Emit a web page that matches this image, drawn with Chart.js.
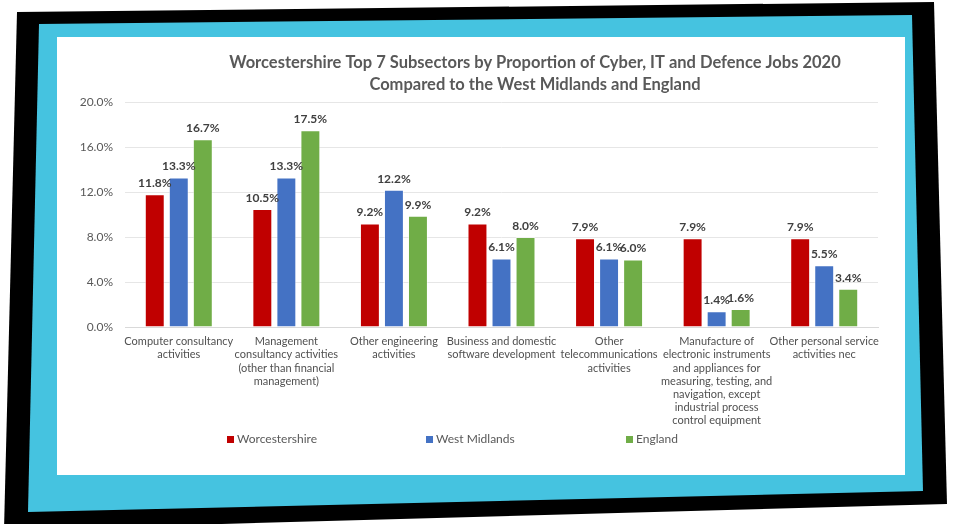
<!DOCTYPE html>
<html>
<head>
    <meta charset="utf-8">
    <title>Worcestershire Top 7 Subsectors</title>
    <script src="https://cdn.jsdelivr.net/npm/chart.js@4.4.0/dist/chart.umd.min.js"></script>
    <style>
        body { margin: 0; width: 954px; height: 524px; background: #fff; position: relative; overflow: hidden; font-family: Lato, sans-serif; }
        #frame { position: absolute; left: 0; top: 0; }
        #white { position: absolute; left: 57px; top: 37px; width: 848px; height: 438px; background: #fff; }
        #wrap { position: absolute; left: 57px; top: 37px; width: 848px; height: 438px; }
        .leg { position: absolute; top: 432px; font-size: 12px; color: #595959; line-height: 14px; white-space: nowrap; }
        .leg span { display: inline-block; width: 7px; height: 7px; margin-right: 3px; vertical-align: 0px; }
    </style>
</head>
<body>
    <svg id="frame" width="954" height="524">
        <polygon points="17,12 934,2 947,504 4,530" fill="#000"/>
        <polygon points="39,24 912,15 923,491 28,512" fill="#45C3E0"/>
    </svg>
    <div id="white"></div>
    <div id="wrap"><canvas id="myChart"></canvas></div>
    <div class="leg" style="left:227px"><span style="background:#C00000"></span>Worcestershire</div>
    <div class="leg" style="left:426px"><span style="background:#4472C4"></span>West Midlands</div>
    <div class="leg" style="left:626px"><span style="background:#70AD47"></span>England</div>
    <script>
        // data
        const categories = [
            ['Computer consultancy', 'activities'],
            ['Management', 'consultancy activities', '(other than financial', 'management)'],
            ['Other engineering', 'activities'],
            ['Business and domestic', 'software development'],
            ['Other', 'telecommunications', 'activities'],
            ['Manufacture of', 'electronic instruments', 'and appliances for', 'measuring, testing, and', 'navigation, except', 'industrial process', 'control equipment'],
            ['Other personal service', 'activities nec']
        ];
        const worcestershire = [11.8, 10.5, 9.2, 9.2, 7.9, 7.9, 7.9];
        const westMidlands = [13.3, 13.3, 12.2, 6.1, 6.1, 1.4, 5.5];
        const england = [16.7, 17.5, 9.9, 8.0, 6.0, 1.6, 3.4];
        const titleLines = [
            'Worcestershire Top 7 Subsectors by Proportion of Cyber, IT and Defence Jobs 2020',
            'Compared to the West Midlands and England'
        ];

        const FONT = 'Lato, sans-serif';
        const GREY = '#595959';

        // title drawn at the same spot as the original
        const titlePlugin = {
            id: 'titleText',
            afterDraw(chart) {
                const ctx = chart.ctx;
                ctx.save();
                ctx.font = 'bold 16.5px ' + FONT;
                ctx.fillStyle = GREY;
                ctx.textAlign = 'center';
                ctx.textBaseline = 'middle';
                ctx.fillText(titleLines[0], 478, 26);
                ctx.fillText(titleLines[1], 478, 48);
                ctx.restore();
            }
        };

        // value labels above the bars
        const valueLabels = {
            id: 'valueLabels',
            afterDatasetsDraw(chart) {
                const ctx = chart.ctx;
                ctx.save();
                ctx.font = 'bold 12px ' + FONT;
                ctx.fillStyle = '#404040';
                ctx.textAlign = 'center';
                ctx.textBaseline = 'middle';
                chart.data.datasets.forEach((ds, i) => {
                    chart.getDatasetMeta(i).data.forEach((bar, j) => {
                        ctx.fillText(ds.data[j].toFixed(1) + '%', bar.x, bar.y - 11);
                    });
                });
                ctx.restore();
            }
        };

        const barOpts = { categoryPercentage: 0.67, barPercentage: 0.83, borderWidth: 1, borderColor: 'rgba(255,255,255,0.5)' };

        const config = {
            type: 'bar',
            data: {
                labels: categories,
                datasets: [
                    Object.assign({ label: 'Worcestershire', data: worcestershire, backgroundColor: '#C00000' }, barOpts),
                    Object.assign({ label: 'West Midlands', data: westMidlands, backgroundColor: '#4472C4' }, barOpts),
                    Object.assign({ label: 'England', data: england, backgroundColor: '#70AD47' }, barOpts)
                ]
            },
            options: {
                responsive: true,
                maintainAspectRatio: false,
                animation: false,
                layout: { padding: { top: 65, right: 27, left: 0, bottom: 48 } },
                plugins: {
                    legend: { display: false },
                    title: { display: false },
                    tooltip: { enabled: false }
                },
                scales: {
                    x: {
                        grid: { display: false, drawTicks: false },
                        border: { color: '#d9d9d9' },
                        ticks: { color: '#505050', font: { family: FONT, size: 11 }, padding: 8, maxRotation: 0, autoSkip: false },
                        afterFit(scale) { scale.height = 100; }
                    },
                    y: {
                        min: 0,
                        max: 20,
                        grid: { color: '#e6e6e6', drawTicks: false },
                        border: { display: false },
                        ticks: {
                            stepSize: 4,
                            color: GREY,
                            font: { family: FONT, size: 12 },
                            padding: 12,
                            callback: v => v.toFixed(1) + '%'
                        },
                        afterFit(scale) { scale.width = 68; }
                    }
                }
            },
            plugins: [valueLabels, titlePlugin]
        };

        const myChart = new Chart(document.getElementById('myChart'), config);
    </script>
</body>
</html>
